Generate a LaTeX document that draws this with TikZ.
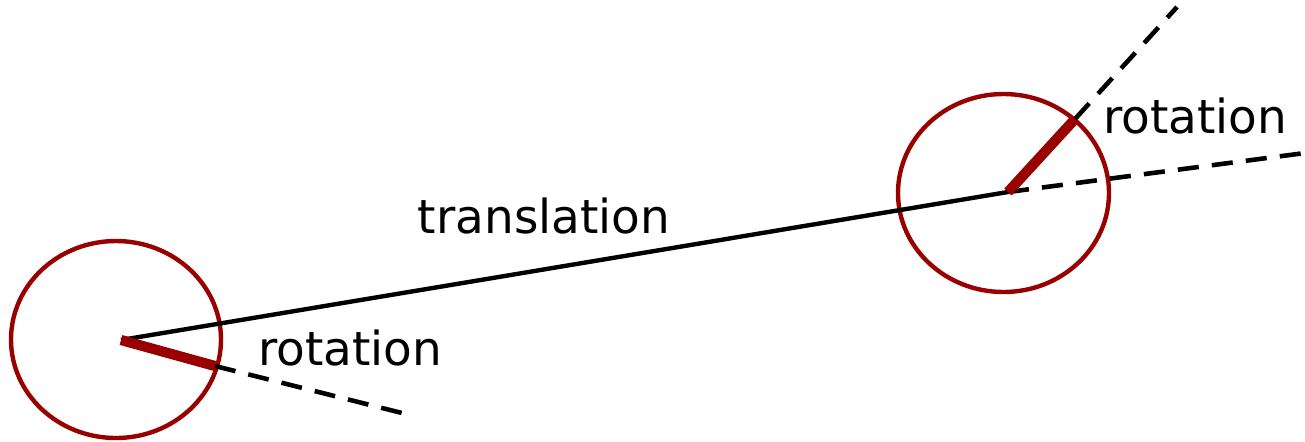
\documentclass[tikz,border=0pt]{standalone}
\usepackage{fontspec}
\setmainfont{DejaVu Sans}
\usepackage{xcolor}
\usetikzlibrary{calc}
\definecolor{ringred}{RGB}{153,0,0}
\tikzset{
  ringline/.style={draw=ringred, line width=2.5pt},
  armline/.style={draw=ringred, line width=5.8pt},
  moveline/.style={draw=black, line width=2.5pt},
  guideline/.style={draw=black, line width=2.6pt, dash pattern=on 12pt off 7.5pt},
  tag/.style={anchor=base, inner sep=0pt, font=\fontsize{26.7}{32}\selectfont}
}

\begin{document}
\begin{tikzpicture}[x=0.02cm, y=-0.02cm]
\useasboundingbox (0,0) rectangle (1305,441);

% body at start and end pose
\coordinate (lc) at (116,339.5);
\coordinate (rc) at (1003.5,193);
\coordinate (lp) at (121,340);
\coordinate (rp) at (1008,192);
\coordinate (la) at (215,366);
\coordinate (lg) at (402,413);
\coordinate (ra) at (1075,119);
\coordinate (rg) at (1177,7);
\coordinate (rh) at (1305,153);

\draw[ringline] (lc) ellipse [x radius=105, y radius=98.5];
\draw[ringline] (rc) ellipse [x radius=105.5, y radius=99];

\draw[moveline] (lp) -- (rp);
\draw[guideline] (la) -- (lg);
\draw[guideline] (rp) -- (rh);
\draw[guideline] (ra) -- (rg);
\draw[armline] (lp) -- (la);
\draw[armline] (rp) -- (ra);

\node[tag] (trans) at (544,233) {translation};
\node[tag] (rotleft) at (350,365) {rotation};
\node[tag] (rotright) at (1195,133) {rotation};
\end{tikzpicture}
\end{document}
